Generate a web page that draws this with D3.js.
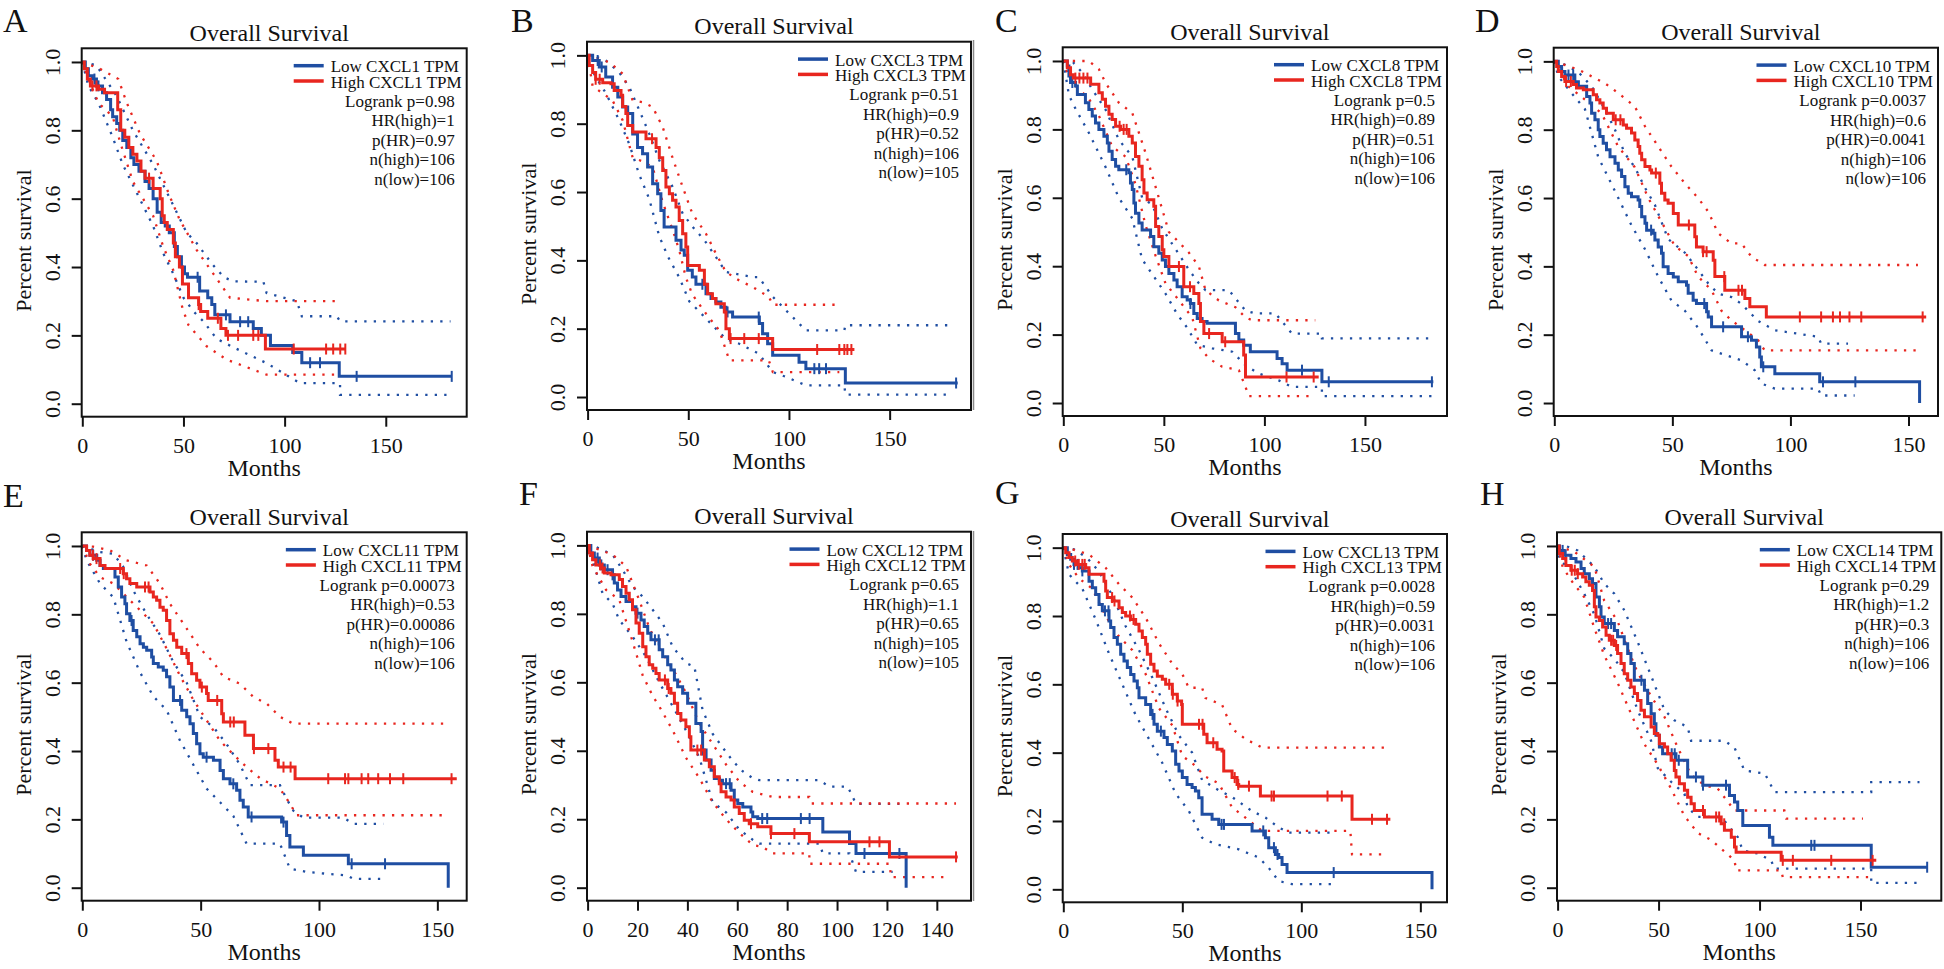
<!DOCTYPE html>
<html><head><meta charset="utf-8">
<script src="https://cdn.jsdelivr.net/npm/d3@7"></script>
<style>body{margin:0;background:#fff} svg{display:block} text{font-family:"Liberation Serif","Times New Roman",serif;fill:#111}</style>
</head><body>
<svg id="c" width="1944" height="969"></svg>
<script>
// ---------------- DATA ----------------
const panelLetters = ["A","B","C","D","E","F","G","H"];
const genes = ["CXCL1","CXCL3","CXCL8","CXCL10","CXCL11","CXCL12","CXCL13","CXCL14"];
const logrankP = ["0.98","0.51","0.5","0.0037","0.00073","0.65","0.0028","0.29"];
const hrHigh = ["1","0.9","0.89","0.6","0.53","1.1","0.59","1.2"];
const pHR = ["0.97","0.52","0.51","0.0041","0.00086","0.65","0.0031","0.3"];
const nHigh = ["106","106","106","106","106","105","106","106"];
const nLow = ["106","105","106","106","106","105","106","106"];
const xMaxMonths = [190,190.4,190.8,162.5,162.4,153.7,161.2,190];
const xTicksAll = [[0,50,100,150],[0,50,100,150],[0,50,100,150],[0,50,100,150],[0,50,100,150],[0,20,40,60,80,100,120,140],[0,50,100,150],[0,50,100,150]];
const yTicks = [0,0.2,0.4,0.6,0.8,1.0];

// Panel A (CXCL1)
const aLow = [[0,1],[1.5,0.98],[3,0.96],[5,0.95],[7,0.93],[10,0.91],[12,0.89],[14,0.86],[15,0.84],[17,0.82],[18.5,0.80],[20,0.77],[22,0.75],[24,0.72],[25.5,0.70],[28,0.68],[31,0.65],[33,0.63],[35,0.60],[37,0.56],[39,0.53],[41,0.52],[43,0.50],[45.5,0.46],[47,0.43],[49,0.40],[50.5,0.38],[52,0.37],[58,0.33],[62,0.31],[64,0.29],[65.5,0.26],[73,0.24],[84.5,0.22],[88.5,0.20],[93,0.17],[104,0.15],[108.5,0.12],[127,0.08],[182.6,0.08]];
const aLowC = [6,8,57,71,78,82,112.6,117.5,135.6,182.6];
const aHigh = [[0,1],[1,0.98],[2.5,0.95],[4,0.93],[8,0.92],[11,0.91],[17.5,0.86],[19,0.80],[21,0.78],[23,0.75],[25,0.73],[27,0.71],[29,0.68],[31,0.66],[35,0.63],[38.5,0.60],[39.5,0.55],[40.5,0.53],[42,0.51],[45,0.47],[46,0.43],[48,0.40],[49.5,0.35],[52.5,0.31],[57.5,0.29],[58.5,0.27],[62,0.25],[68.5,0.22],[71,0.20],[90.5,0.16],[130,0.16]];
const aHighC = [5,7,33,57.5,67,72,77,84.5,87,104.5,120.5,124,127.5,130];
const aLowUp = [[0,1],[7,0.99],[17,0.90],[25,0.80],[35,0.70],[45,0.58],[51.6,0.50],[56.5,0.47],[64,0.41],[70,0.37],[74.7,0.358],[89.5,0.357],[91.1,0.324],[106,0.30],[108.5,0.256],[125.8,0.256],[127.4,0.241],[182,0.241]];
const aLowLo = [[0,1],[3,0.93],[8,0.88],[15,0.78],[20,0.70],[25,0.64],[30,0.58],[35,0.52],[40,0.44],[45,0.38],[50,0.31],[55,0.27],[60,0.24],[66.4,0.19],[74.7,0.165],[91,0.119],[107.6,0.06],[127.4,0.06],[127.4,0.026],[182.6,0.026]];
const aHighUp = [[0,1],[8.7,0.98],[17.8,0.95],[22,0.88],[28.5,0.79],[36.8,0.71],[43,0.61],[48,0.54],[56.5,0.45],[64.8,0.38],[73,0.31],[91,0.30],[125.8,0.30]];
const aHighLo = [[0,1],[3,0.95],[8,0.88],[15,0.84],[19,0.76],[25,0.65],[30,0.60],[35,0.55],[40,0.46],[45,0.39],[49.5,0.28],[52.5,0.23],[61.5,0.168],[71.4,0.129],[91,0.085],[125.8,0.085]];

// Panel B (CXCL3)
const bLow = [[0,1],[2.5,0.985],[5.8,0.966],[9,0.937],[12.4,0.907],[15,0.878],[17.4,0.849],[19.9,0.83],[22.4,0.77],[24.8,0.73],[27.3,0.712],[29.8,0.673],[32.3,0.624],[34.8,0.595],[36.4,0.546],[38,0.498],[43.9,0.459],[46.4,0.43],[48,0.415],[49.7,0.371],[52,0.351],[53.8,0.33],[58.8,0.302],[61.3,0.288],[63.7,0.278],[66.2,0.263],[68.7,0.249],[72,0.234],[85.3,0.215],[86.9,0.185],[89.4,0.156],[91.9,0.122],[105,0.102],[108.4,0.083],[128,0.041],[183.8,0.041]];
const bLowC = [5,7,57,69.5,85,112.6,115,118.4,183];
const bHigh = [[0,1],[0.8,0.97],[2.5,0.95],[4,0.93],[7.5,0.92],[11.6,0.917],[13.2,0.897],[16.6,0.883],[17.4,0.85],[19,0.83],[19.9,0.795],[22.4,0.776],[29,0.756],[34,0.73],[35.6,0.70],[37.3,0.663],[38.9,0.615],[40.6,0.595],[42.2,0.576],[43.9,0.556],[45.5,0.517],[47.2,0.478],[48.8,0.439],[49.7,0.385],[55.5,0.371],[58,0.33],[59.6,0.302],[62,0.288],[63.7,0.273],[67.9,0.249],[68.7,0.20],[70.4,0.171],[91.9,0.139],[132.5,0.139]];
const bHighC = [4,6,32,71,77.8,85,114,125,127.5,129,131];
const bLowUp = [[0,1],[2.5,1],[9,0.985],[15.7,0.95],[20.7,0.907],[25.7,0.839],[30.6,0.771],[35.6,0.693],[42.2,0.615],[47.2,0.537],[52.2,0.498],[58,0.459],[63.7,0.41],[68.7,0.366],[82,0.351],[85,0.351],[92,0.293],[98.5,0.254],[108.4,0.195],[127.5,0.195],[128,0.21],[181,0.21]];
const bLowLo = [[0,1],[2,0.96],[4,0.937],[9,0.89],[15.7,0.81],[20.7,0.74],[25.7,0.65],[30.6,0.58],[35.6,0.47],[40,0.41],[45.5,0.35],[50.5,0.28],[55.5,0.25],[62,0.21],[68.7,0.17],[75.3,0.156],[85,0.127],[92,0.073],[98.5,0.059],[108.4,0.034],[127.5,0.034],[128,0.007],[181,0.007]];
const bHighUp = [[0,1],[10.8,0.98],[17.4,0.946],[22.4,0.868],[27.3,0.863],[32.3,0.849],[37.3,0.79],[42.2,0.70],[47.2,0.615],[52,0.537],[58.8,0.478],[63.7,0.42],[68.7,0.366],[75.3,0.341],[82,0.322],[90,0.293],[92,0.27],[126,0.27]];
const bHighLo = [[0,1],[2.5,0.91],[12.4,0.868],[17.4,0.81],[22.4,0.70],[27.3,0.69],[32.3,0.673],[37.3,0.57],[42.2,0.49],[45.5,0.43],[48.8,0.35],[52,0.30],[58.8,0.244],[65.4,0.195],[68.7,0.137],[70.4,0.107],[90,0.107],[92,0.073],[125,0.073]];

// Panel C (CXCL8)
const cLow = [[0,1],[2,0.985],[2.8,0.956],[3.6,0.937],[6.1,0.927],[7,0.902],[11,0.878],[12.7,0.858],[14.4,0.839],[16,0.819],[17.7,0.80],[20.2,0.78],[21.9,0.76],[22.7,0.736],[24.3,0.712],[26,0.692],[27.6,0.682],[32.6,0.673],[33.4,0.643],[34.3,0.624],[35.1,0.585],[35.9,0.555],[37.6,0.526],[39.2,0.506],[43.4,0.487],[45,0.457],[47.5,0.438],[49.2,0.418],[50.8,0.399],[52.5,0.379],[55,0.36],[56.6,0.34],[59.1,0.311],[61.6,0.301],[63.2,0.291],[64.9,0.262],[66.6,0.247],[69,0.238],[71.5,0.233],[85.6,0.203],[87.3,0.184],[89.7,0.169],[93,0.15],[106.3,0.13],[108.8,0.115],[111.3,0.096],[128.6,0.062],[184,0.062]];
const cLowC = [4.5,31.3,63.2,118.7,132,183.3];
const cHigh = [[0,1],[2,0.98],[3.6,0.96],[5,0.95],[13.6,0.932],[17.7,0.907],[19.4,0.888],[21,0.868],[22.7,0.844],[24.3,0.829],[26,0.809],[28.5,0.80],[32.6,0.78],[34.3,0.76],[35.9,0.721],[37.6,0.692],[39.2,0.653],[40.1,0.614],[41.7,0.594],[45,0.575],[45.9,0.516],[47.5,0.487],[49.2,0.448],[50,0.428],[52.5,0.399],[59.9,0.34],[64.9,0.32],[67.4,0.291],[68.2,0.238],[69.9,0.203],[79,0.179],[89.7,0.14],[90.6,0.076],[127,0.076]];
const cHighC = [6,8,10,12,28,30,31.5,57.5,63,72.5,80.5,111,124.5];
const cLowUp = [[0,1],[5,0.995],[9.4,0.966],[14.4,0.917],[21,0.858],[27.6,0.77],[34.3,0.72],[39.2,0.60],[44.2,0.58],[49.2,0.51],[55.8,0.45],[62.4,0.39],[67.4,0.35],[70.7,0.33],[82.3,0.33],[90.6,0.27],[95.5,0.262],[105.5,0.262],[113.7,0.203],[128.6,0.203],[128.6,0.189],[183.3,0.189]];
const cLowLo = [[0,1],[2.8,0.90],[6.1,0.86],[12.7,0.79],[21,0.69],[27.6,0.60],[34.3,0.54],[39.2,0.42],[45,0.37],[50.8,0.32],[56.6,0.26],[61.6,0.22],[66.6,0.17],[74,0.16],[84,0.15],[90.6,0.11],[97.2,0.086],[107.1,0.066],[113.7,0.047],[128.6,0.047],[128.6,0.02],[183.3,0.02]];
const cHighUp = [[0,1],[12.7,1],[17.7,0.976],[21,0.936],[27.6,0.878],[34.3,0.848],[37.6,0.79],[40.9,0.731],[47.5,0.60],[52.5,0.50],[57.5,0.47],[62.4,0.44],[67.4,0.40],[70.7,0.33],[77.3,0.30],[85.6,0.28],[90.6,0.25],[93.9,0.242],[125.3,0.242]];
const cHighLo = [[0,1],[2,0.966],[6.1,0.927],[12.7,0.89],[17.7,0.84],[24.3,0.75],[31,0.72],[35.9,0.64],[40.9,0.52],[45.9,0.43],[50.8,0.35],[57.5,0.30],[64.1,0.25],[68.2,0.16],[72.4,0.13],[79,0.106],[87.3,0.096],[90.6,0.047],[92.2,0.02],[125.3,0.02]];

// Panel D (CXCL10)
const dLow = [[0,1],[1.7,0.985],[3.1,0.97],[4.5,0.96],[8.7,0.94],[10.2,0.927],[13.7,0.897],[15.1,0.878],[15.8,0.848],[17.2,0.829],[18.6,0.80],[19.3,0.78],[20.7,0.76],[22.1,0.741],[23.6,0.721],[25.7,0.702],[27.1,0.682],[28.5,0.663],[29.9,0.633],[31.3,0.614],[32.7,0.604],[35.5,0.594],[36.2,0.575],[37,0.545],[38.4,0.526],[39.1,0.506],[41.9,0.497],[42.6,0.477],[44,0.457],[45.4,0.438],[46.1,0.399],[48.2,0.379],[50.4,0.369],[52.5,0.355],[56,0.345],[56.7,0.321],[58.8,0.301],[60.2,0.291],[64.5,0.267],[65.2,0.252],[66.6,0.223],[79.3,0.194],[83.5,0.184],[85.6,0.164],[87,0.135],[87.7,0.106],[93.4,0.086],[112.4,0.062],[154.7,0.062],[154.7,0]];
const dLowC = [6,8,41,63.5,71.5,82,88.5,113.8,127.5];
const dHigh = [[0,1],[1,0.985],[1.7,0.97],[3.1,0.956],[4.5,0.941],[8,0.932],[9.4,0.922],[12.3,0.917],[16.5,0.902],[17.9,0.888],[19.3,0.878],[20.7,0.863],[22.1,0.848],[25,0.829],[29.2,0.814],[30.6,0.804],[32.7,0.79],[34.1,0.77],[35.5,0.751],[36.2,0.731],[37,0.712],[38.4,0.692],[40.5,0.682],[41.2,0.673],[44.7,0.643],[45.4,0.614],[46.8,0.594],[48.2,0.585],[50.4,0.555],[52.5,0.521],[59.5,0.487],[60.2,0.457],[63,0.443],[67.3,0.418],[68,0.37],[72.2,0.33],[80.7,0.306],[82.8,0.282],[89.8,0.252],[157.5,0.252]];
const dHighC = [5,7,26,28,43,57,63,64.5,72,78,79.5,104,113,118,121,125,130,156];
const dLowUp = [[0,1],[3,0.995],[10,0.97],[15.8,0.927],[21.4,0.86],[25.7,0.80],[29.9,0.73],[34.1,0.69],[38.4,0.63],[42.6,0.58],[48.2,0.48],[55.3,0.44],[60.9,0.39],[65.2,0.35],[69.4,0.32],[75,0.31],[79.3,0.29],[86.3,0.24],[93.4,0.213],[111.7,0.194],[113,0.174],[124.4,0.174]];
const dLowLo = [[0,1],[1.7,0.956],[7.3,0.907],[13,0.86],[15.8,0.79],[18.6,0.72],[24.3,0.64],[28.5,0.58],[32.7,0.52],[38.4,0.45],[44,0.37],[49.6,0.30],[55.3,0.27],[60.9,0.22],[66.6,0.154],[79.3,0.125],[84.9,0.096],[87.7,0.057],[93.4,0.042],[111.7,0.042],[113,0.022],[127.2,0.022]];
const dHighUp = [[0,1],[10.2,0.976],[15.8,0.956],[21.4,0.936],[27.1,0.907],[34.1,0.868],[38.4,0.81],[44,0.751],[49.6,0.692],[55.3,0.643],[60.9,0.60],[65.2,0.56],[69.4,0.497],[75,0.467],[79.3,0.467],[83.5,0.428],[89.1,0.404],[154,0.404]];
const dHighLo = [[0,1],[5.9,0.927],[13,0.888],[20,0.848],[27.1,0.75],[34.1,0.69],[39.8,0.60],[45.4,0.53],[51,0.46],[56.7,0.43],[60.9,0.37],[66.6,0.33],[70.8,0.27],[75,0.242],[80.7,0.213],[86.3,0.184],[89.1,0.154],[154,0.154]];

// Panel E (CXCL11)
const eLow = [[0,1],[1.8,0.987],[3.2,0.973],[6.1,0.958],[7.5,0.943],[8.9,0.934],[13.8,0.909],[15.2,0.88],[16.6,0.851],[18,0.831],[18.7,0.802],[20.1,0.782],[21.5,0.753],[23,0.734],[24.4,0.714],[25.8,0.704],[27.2,0.695],[29.3,0.675],[30,0.656],[32.1,0.646],[34.2,0.636],[35.6,0.617],[37,0.587],[38.5,0.548],[42,0.519],[44.1,0.50],[45.5,0.48],[46.9,0.451],[48.3,0.421],[49.7,0.392],[51.1,0.382],[55.4,0.373],[58.2,0.343],[59.6,0.319],[62.4,0.304],[65.2,0.285],[66.6,0.256],[68,0.236],[70.1,0.207],[84.2,0.192],[86.3,0.153],[87.7,0.119],[93.4,0.095],[112.4,0.07],[154.6,0.07],[154.6,0]];
const eLowC = [4.6,20.8,41.3,52.5,63.8,71.5,85,113.8,127.9];
const eHigh = [[0,1],[1.8,0.987],[3.2,0.973],[4.6,0.963],[7.5,0.943],[9.6,0.934],[17.3,0.919],[18.7,0.904],[20.1,0.89],[23,0.88],[28.6,0.865],[30,0.851],[31.4,0.841],[32.8,0.821],[34.2,0.812],[35.6,0.782],[37,0.743],[38.5,0.724],[39.9,0.704],[42,0.685],[44.8,0.656],[46.2,0.626],[48.3,0.607],[49.7,0.587],[52.5,0.568],[53.2,0.548],[58.9,0.509],[59.6,0.485],[68.7,0.446],[72.3,0.407],[81.4,0.373],[82.8,0.353],[89.9,0.319],[158.2,0.319]];
const eHighC = [4.5,6,16,17.5,26.5,28,44,50.5,57,62.5,64,72.5,78.6,85,88,103.9,111,112.4,118,120.8,125,130,135.6,156];
const eLowUp = [[0,1],[7.5,0.982],[13.1,0.977],[17.3,0.939],[21.5,0.87],[27.2,0.80],[32.8,0.74],[38.5,0.66],[44.1,0.60],[49.7,0.50],[55.4,0.47],[61,0.42],[66.6,0.36],[70.8,0.30],[83.5,0.30],[86.3,0.26],[89.2,0.225],[93.4,0.205],[110.3,0.205],[114.5,0.187],[127.2,0.187]];
const eLowLo = [[0,1],[1.8,0.958],[7.5,0.89],[13.1,0.85],[18.7,0.72],[24.4,0.63],[30,0.56],[35.6,0.52],[41.3,0.43],[46.9,0.36],[52.5,0.29],[58.2,0.25],[63.8,0.21],[69.4,0.129],[83.5,0.129],[87.7,0.056],[94.8,0.046],[111.7,0.036],[114.5,0.026],[127.9,0.026]];
const eHighUp = [[0,1],[4.6,0.998],[11.7,0.987],[18.7,0.958],[27.2,0.943],[32.8,0.89],[37,0.831],[42.7,0.773],[49.7,0.70],[55.4,0.66],[59.6,0.617],[66.6,0.597],[72.3,0.558],[77.9,0.539],[83.5,0.50],[89.2,0.48],[153.2,0.48]];
const eHighLo = [[0,1],[3.2,0.948],[7.5,0.909],[13.1,0.89],[18.7,0.851],[24.4,0.812],[30,0.773],[35.6,0.70],[41.3,0.62],[46.9,0.55],[52.5,0.49],[58.2,0.43],[63.8,0.39],[69.4,0.353],[75.1,0.32],[83.5,0.29],[87.7,0.246],[90.6,0.212],[154.6,0.212]];

// Panel F (CXCL12)
const fLow = [[0,1],[1.3,0.978],[2.7,0.963],[4.7,0.943],[6.7,0.929],[10,0.914],[10.7,0.89],[12,0.87],[13.4,0.851],[15.4,0.836],[18,0.821],[19.4,0.802],[21.4,0.782],[22.7,0.763],[24.1,0.743],[25.4,0.724],[28.7,0.695],[30.1,0.675],[32.1,0.651],[33.4,0.636],[34.8,0.607],[36.1,0.587],[38.1,0.568],[40.1,0.539],[43.4,0.48],[45.5,0.456],[46.1,0.402],[47.5,0.373],[49.5,0.343],[50.8,0.319],[52.8,0.314],[54.1,0.304],[57.5,0.285],[58.8,0.256],[60.2,0.246],[62.2,0.236],[65.5,0.221],[66.2,0.207],[68.2,0.202],[94.3,0.163],[105,0.129],[107.6,0.10],[127.7,0.10],[127.7,0]];
const fLowC = [4,5.5,8,10,20,27,28.5,46.1,55.5,57,70,72,85.5,89,111,125];
const fHigh = [[0,1],[0.7,0.978],[2,0.958],[3.3,0.943],[5.3,0.934],[6.7,0.919],[9.4,0.914],[12.7,0.90],[14,0.88],[15.4,0.86],[16.7,0.841],[18,0.812],[19.4,0.773],[20.7,0.743],[22.1,0.704],[23.4,0.675],[24.7,0.651],[26.1,0.641],[27.4,0.626],[28.7,0.607],[32.1,0.582],[33.4,0.568],[34.8,0.539],[36.1,0.509],[37.4,0.49],[39.4,0.47],[40.8,0.441],[41.4,0.402],[46.8,0.373],[48.8,0.353],[50.8,0.324],[52.8,0.304],[53.5,0.28],[55.5,0.265],[57.5,0.256],[58.8,0.236],[60.8,0.217],[62.8,0.197],[64.8,0.187],[68.2,0.178],[73.5,0.158],[88.9,0.134],[121,0.09],[148.4,0.09]];
const fHighC = [5,6,31,32.5,44,45.5,65.5,73.5,82.9,113,117,147.7];
const fLowUp = [[0,1],[2,1],[10,0.973],[14,0.929],[18,0.88],[22.1,0.85],[26.1,0.812],[30.1,0.773],[34.1,0.704],[39.4,0.656],[42.8,0.646],[46.1,0.519],[50.1,0.45],[54.1,0.41],[58.2,0.37],[62.2,0.34],[66.2,0.32],[68.9,0.314],[92.9,0.314],[96.9,0.295],[104.3,0.295],[107.6,0.245],[125,0.245]];
const fLowLo = [[0,1],[2,0.958],[6,0.86],[10,0.83],[12.7,0.782],[18,0.734],[23.4,0.675],[28.7,0.60],[34.1,0.53],[39.4,0.46],[44.8,0.38],[50.1,0.25],[55.5,0.22],[60.8,0.17],[66.2,0.14],[68.9,0.129],[92.9,0.129],[94.3,0.10],[105,0.10],[107.6,0.046],[122.3,0.046]];
const fHighUp = [[0,1],[10,0.973],[15.4,0.939],[20.7,0.84],[24.7,0.76],[28.7,0.70],[34.1,0.64],[39.4,0.57],[44.8,0.48],[50.1,0.42],[55.5,0.36],[60.8,0.31],[66.2,0.28],[71.5,0.27],[74.2,0.265],[88.9,0.265],[89.6,0.246],[147.7,0.246]];
const fHighLo = [[0,1],[2,0.939],[7.4,0.87],[12.7,0.841],[18,0.72],[22.1,0.62],[26.1,0.56],[28.7,0.53],[34.1,0.46],[39.4,0.38],[44.8,0.32],[50.1,0.25],[55.5,0.20],[60.8,0.16],[66.2,0.125],[70.2,0.119],[74.2,0.10],[88.9,0.10],[88.9,0.07],[121,0.07],[121.7,0.031],[145,0.031]];

// Panel G (CXCL13)
const gLow = [[0,1],[1.7,0.98],[3.1,0.966],[4.5,0.951],[6.6,0.941],[8,0.932],[10.8,0.902],[12.2,0.883],[13.6,0.863],[15,0.834],[16.4,0.815],[19.2,0.785],[19.9,0.766],[21.3,0.737],[22.7,0.717],[24.1,0.688],[25.5,0.668],[26.9,0.649],[28.3,0.629],[29.7,0.61],[31.1,0.59],[31.8,0.561],[34.6,0.541],[36.7,0.512],[38.1,0.483],[39.5,0.463],[42.3,0.444],[43.7,0.424],[45.8,0.405],[47.2,0.366],[48.6,0.346],[50,0.327],[52,0.307],[54.1,0.298],[55.5,0.288],[56.9,0.268],[58.3,0.22],[62.5,0.205],[65.3,0.19],[79.3,0.171],[84.9,0.151],[86.3,0.122],[89.1,0.102],[90.5,0.093],[91.9,0.073],[94,0.049],[154.9,0.049],[154.9,0]];
const gLowC = [4.5,6,8,17.5,19,37.5,41,66.5,67.5,84,88.5,90,113.6];
const gHigh = [[0,1],[1,0.985],[2.4,0.971],[3.8,0.961],[5.9,0.951],[9.4,0.941],[10.8,0.922],[17.1,0.902],[17.8,0.873],[18.5,0.854],[20.6,0.844],[23.4,0.824],[24.8,0.81],[26.2,0.80],[28.3,0.79],[30.4,0.776],[31.8,0.756],[33.2,0.737],[34.6,0.717],[35.3,0.688],[36.7,0.659],[38.1,0.639],[39.5,0.624],[41.6,0.615],[43,0.60],[45.8,0.571],[47.9,0.551],[49.7,0.541],[50,0.483],[59,0.454],[60.4,0.429],[64.6,0.41],[66.7,0.405],[67.4,0.346],[70.9,0.327],[73,0.307],[73.7,0.302],[82.8,0.273],[121.3,0.205],[137.4,0.205]];
const gHighC = [5,6.5,8,9,20.5,21.5,28,29.5,44.5,46,48,57,58.5,63,72,73.5,78,87.5,88.5,111,117,129.7,136];
const gLowUp = [[0,1],[4.5,0.995],[10,0.97],[15,0.93],[20.6,0.86],[26.2,0.77],[31.8,0.70],[37.4,0.62],[43,0.53],[48.6,0.45],[54.1,0.40],[58.3,0.32],[65.3,0.29],[70.9,0.27],[79.3,0.229],[84.9,0.21],[90.5,0.181],[94.7,0.166],[112.9,0.166]];
const gLowLo = [[0,1],[2.4,0.922],[8,0.88],[13.6,0.79],[19.2,0.69],[24.8,0.60],[30.4,0.51],[36,0.44],[41.6,0.37],[47.2,0.28],[52.7,0.23],[58.3,0.151],[63.9,0.132],[73.7,0.117],[82.1,0.093],[86.3,0.063],[90.5,0.024],[96.1,0.015],[112.9,0.015]];
const gHighUp = [[0,1],[3.8,0.995],[10.8,0.98],[17.8,0.941],[23.4,0.893],[29,0.854],[34.6,0.795],[40.2,0.72],[45.8,0.66],[50,0.63],[52.7,0.59],[58.3,0.59],[59.7,0.56],[66.7,0.54],[70.9,0.47],[76.5,0.44],[83.5,0.415],[135.3,0.415]];
const gHighLo = [[0,1],[2.4,0.951],[6.6,0.91],[12.2,0.88],[17.8,0.80],[23.4,0.74],[29,0.70],[34.6,0.63],[40.2,0.53],[45.8,0.48],[50,0.39],[54.1,0.37],[59.7,0.33],[65.3,0.31],[70.9,0.24],[76.5,0.21],[83.5,0.171],[120.6,0.171],[121.3,0.102],[134,0.102]];

// Panel H (CXCL14)
const hLow = [[0,1],[1,0.987],[3.3,0.973],[6.6,0.963],[9.1,0.953],[11.6,0.934],[13.2,0.919],[15.7,0.904],[17.3,0.89],[19,0.851],[20.7,0.822],[21.5,0.792],[23.1,0.773],[28.1,0.753],[29.7,0.734],[33,0.714],[34.7,0.685],[36.3,0.656],[38,0.607],[43,0.578],[44.6,0.539],[46.3,0.509],[47.9,0.48],[48.7,0.446],[50.4,0.412],[52,0.392],[58.6,0.373],[64.4,0.324],[71.9,0.30],[85.1,0.27],[87.6,0.251],[89.2,0.226],[91.7,0.182],[104.9,0.148],[106.6,0.124],[155.3,0.124],[155.3,0.06],[183.4,0.06]];
const hLowC = [2.5,4,25,26.5,41.5,56.5,58,60,68.5,72,83.4,125.6,127.2,183];
const hHigh = [[0,1],[0.8,0.978],[2.5,0.963],[4.1,0.943],[6.6,0.929],[9.9,0.919],[12.4,0.909],[14,0.895],[15.7,0.885],[17.3,0.87],[18.2,0.822],[19,0.792],[20.7,0.782],[22.3,0.763],[24,0.739],[25.6,0.724],[28.1,0.709],[29.7,0.685],[31.4,0.656],[33,0.626],[34.7,0.607],[36.3,0.587],[38,0.568],[39.6,0.548],[41.3,0.519],[43,0.50],[46.3,0.47],[47.9,0.451],[49.6,0.446],[50.4,0.421],[52.9,0.412],[54.5,0.392],[56.2,0.373],[57.8,0.343],[58.6,0.324],[60.3,0.304],[62.8,0.285],[64.4,0.265],[66.1,0.246],[67.7,0.226],[72.7,0.207],[81,0.187],[82.6,0.168],[86,0.148],[87.6,0.119],[88.4,0.104],[110.7,0.08],[157.8,0.08]];
const hHighC = [7,8.5,10,26.5,27.5,29,72,78.5,80,82.5,111.5,116.5,135.5,156];
const hLowUp = [[0,1],[4,1],[9.9,0.987],[18.2,0.939],[23.1,0.89],[28.1,0.86],[33,0.812],[39.6,0.72],[46.3,0.62],[52.9,0.52],[57.8,0.49],[64.4,0.47],[66.1,0.43],[82.6,0.43],[87.6,0.41],[92.5,0.343],[102.6,0.334],[107.4,0.28],[155.3,0.28],[155.3,0.309],[179.2,0.309]];
const hLowLo = [[0,1],[1,0.958],[6.6,0.93],[13.2,0.86],[18.2,0.80],[23.1,0.70],[28.1,0.67],[33,0.63],[39.6,0.52],[46.3,0.43],[49.6,0.35],[56.2,0.31],[62.8,0.275],[64.4,0.235],[69.4,0.207],[81,0.207],[89.2,0.148],[91.7,0.109],[99.1,0.10],[105.7,0.08],[107.4,0.056],[155.3,0.056],[155.3,0.014],[180,0.014]];
const hHighUp = [[0,1],[8.3,0.983],[18.2,0.939],[23.1,0.84],[29.7,0.78],[34.7,0.70],[39.6,0.63],[46.3,0.56],[52.9,0.50],[59.5,0.41],[66.1,0.33],[72.7,0.30],[79.3,0.29],[87.6,0.226],[112.3,0.226],[113.2,0.202],[151.2,0.202]];
const hHighLo = [[0,1],[2.5,0.939],[6.6,0.90],[13.2,0.85],[18.2,0.76],[23.1,0.68],[29.7,0.60],[36.3,0.51],[43,0.42],[49.6,0.36],[56.2,0.29],[62.8,0.21],[69.4,0.16],[76,0.14],[87.6,0.08],[88.4,0.051],[110.7,0.051],[111.5,0.031],[155.3,0.031]];

const lowCurves = [aLow,bLow,cLow,dLow,eLow,fLow,gLow,hLow];
const highCurves = [aHigh,bHigh,cHigh,dHigh,eHigh,fHigh,gHigh,hHigh];
const lowCens = [aLowC,bLowC,cLowC,dLowC,eLowC,fLowC,gLowC,hLowC];
const highCens = [aHighC,bHighC,cHighC,dHighC,eHighC,fHighC,gHighC,hHighC];
const lowUpper = [aLowUp,bLowUp,cLowUp,dLowUp,eLowUp,fLowUp,gLowUp,hLowUp];
const lowLower = [aLowLo,bLowLo,cLowLo,dLowLo,eLowLo,fLowLo,gLowLo,hLowLo];
const highUpper = [aHighUp,bHighUp,cHighUp,dHighUp,eHighUp,fHighUp,gHighUp,hHighUp];
const highLower = [aHighLo,bHighLo,cHighLo,dHighLo,eHighLo,fHighLo,gHighLo,hHighLo];

// ---------------- LAYOUT ----------------
const boxes = [
  {l:81.7,t:48.3,r:466.7,b:416.7, lx:3, ly:31.5},
  {l:587,t:41.7,r:971,b:410, lx:511, ly:31.5},
  {l:1062.7,t:47.3,r:1447,b:416, lx:995, ly:31.5},
  {l:1553.7,t:47.7,r:1938,b:416, lx:1475, ly:31.5},
  {l:81.7,t:532.3,r:466.7,b:900.7, lx:3, ly:507},
  {l:587,t:531.7,r:971,b:900.7, lx:519, ly:505},
  {l:1062.7,t:534,r:1447,b:902.3, lx:995, ly:504},
  {l:1557,t:532.3,r:1941.3,b:900.7, lx:1480, ly:505}
];
const BLUE = "#1f4ea2", RED = "#e8261f";

const svg = d3.select("#c");
svg.append("rect").attr("width",1944).attr("height",969).attr("fill","#fff");

// thin gray panel-edge artifacts
[[40,410],[531,901]].forEach(([y1,y2]) => {
  svg.append("line").attr("x1",973.5).attr("x2",973.5).attr("y1",y1).attr("y2",y2)
    .attr("stroke","#8a8a8a").attr("stroke-width",1.5);
});

function stepAt(curve, t){
  let v = curve[0][1];
  for (const p of curve){ if (p[0] <= t) v = p[1]; else break; }
  return v;
}

panelLetters.forEach((letter, i) => {
  const b = boxes[i];
  const g = svg.append("g");
  const x = d3.scaleLinear().domain([0, xMaxMonths[i]]).range([b.l + 0.6, b.r]);
  const y = d3.scaleLinear().domain([-0.038, 1.04]).range([b.b, b.t]);
  const cx = (b.l + b.r) / 2;

  g.append("text").attr("x", b.lx).attr("y", b.ly).attr("font-size", 34).text(letter);
  g.append("text").attr("x", cx - 5).attr("y", b.t - 7.5).attr("text-anchor","middle")
    .attr("font-size", 24).text("Overall Survival");

  const xa = g.append("g").attr("transform", `translate(0,${b.b})`)
    .call(d3.axisBottom(x).tickValues(xTicksAll[i]).tickSize(10).tickFormat(d3.format("d")));
  xa.select(".domain").remove();
  xa.selectAll("line").attr("stroke","#111").attr("stroke-width",2);
  xa.selectAll("text").attr("y",36).attr("dy",0).attr("font-size",22)
    .style("font-family",'"Liberation Serif","Times New Roman",serif').attr("fill","#111");

  const ya = g.append("g").attr("transform", `translate(${b.l},0)`)
    .call(d3.axisLeft(y).tickValues(yTicks).tickSize(10).tickFormat(d3.format(".1f")));
  ya.select(".domain").remove();
  ya.selectAll("line").attr("stroke","#111").attr("stroke-width",2);
  ya.selectAll("text").attr("x",0).attr("dy",0).attr("text-anchor","middle")
    .attr("transform","translate(-22,0) rotate(-90)").attr("font-size",22)
    .style("font-family",'"Liberation Serif","Times New Roman",serif').attr("fill","#111");

  g.append("text").attr("x", cx - 10).attr("y", b.b + 59).attr("text-anchor","middle")
    .attr("font-size", 24).text("Months");
  g.append("text").attr("transform", `translate(${b.l - 51},${(b.t + b.b)/2 + 8}) rotate(-90)`)
    .attr("text-anchor","middle").attr("font-size", 22).text("Percent survival");

  const ci = d3.line().x(d => x(d[0])).y(d => y(d[1]));
  [[lowUpper[i],BLUE],[lowLower[i],BLUE],[highUpper[i],RED],[highLower[i],RED]].forEach(([d,c]) => {
    g.append("path").attr("d", ci(d)).attr("fill","none").attr("stroke", c)
      .attr("stroke-width", 2.3).attr("stroke-dasharray","2.3 7.2");
  });

  const km = d3.line().curve(d3.curveStepAfter).x(d => x(d[0])).y(d => y(d[1]));
  [[lowCurves[i], lowCens[i], BLUE],[highCurves[i], highCens[i], RED]].forEach(([curve, cens, c]) => {
    g.append("path").attr("d", km(curve)).attr("fill","none").attr("stroke", c)
      .attr("stroke-width", 3);
    g.selectAll(null).data(cens).enter().append("line")
      .attr("x1", d => x(d)).attr("x2", d => x(d))
      .attr("y1", d => y(stepAt(curve, d)) - 5.5).attr("y2", d => y(stepAt(curve, d)) + 5.5)
      .attr("stroke", c).attr("stroke-width", 2);
  });

  g.append("rect").attr("x", b.l).attr("y", b.t).attr("width", b.r - b.l).attr("height", b.b - b.t)
    .attr("fill","none").attr("stroke","#111").attr("stroke-width",2);

  const tmp = g.append("text").attr("font-size",17).text(`High ${genes[i]} TPM`);
  const w = tmp.node().getComputedTextLength();
  tmp.remove();
  const tl = b.r - 5 - w;
  [[`Low ${genes[i]} TPM`, BLUE, 17.4],[`High ${genes[i]} TPM`, RED, 32.7]].forEach(([txt,c,dy]) => {
    g.append("line").attr("x1", tl - 37).attr("x2", tl - 7).attr("y1", b.t + dy).attr("y2", b.t + dy)
      .attr("stroke", c).attr("stroke-width", 3.5);
    g.append("text").attr("x", tl).attr("y", b.t + dy + 6.6).attr("font-size",17).text(txt);
  });
  const stats = [`Logrank p=${logrankP[i]}`, `HR(high)=${hrHigh[i]}`, `p(HR)=${pHR[i]}`,
                 `n(high)=${nHigh[i]}`, `n(low)=${nLow[i]}`];
  stats.forEach((s, k) => {
    g.append("text").attr("x", b.r - 12).attr("y", b.t + 58.4 + k * 19.5)
      .attr("text-anchor","end").attr("font-size",17).text(s);
  });
});
</script>
</body></html>
